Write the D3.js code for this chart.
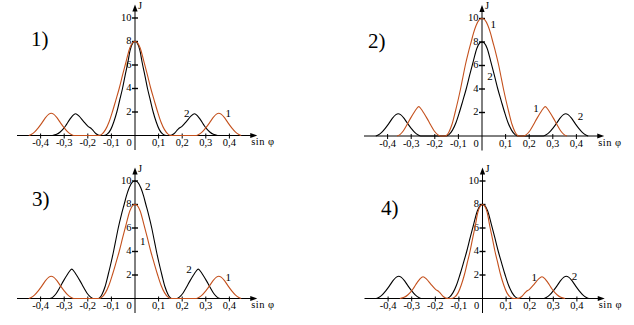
<!DOCTYPE html>
<html><head><meta charset="utf-8">
<script src="https://cdn.jsdelivr.net/npm/d3@7"></script>
<style>
body{margin:0;background:#fff;}
svg{display:block;background:#fff;}
text{font-family:"Liberation Serif","DejaVu Serif",serif;fill:#000;}
</style>
</head><body>
<svg id="chart" width="634" height="325" font-family="Liberation Serif, DejaVu Serif, serif"></svg>
<script>
// ---- data ----
const xTicks = [-0.4, -0.3, -0.2, -0.1, 0.1, 0.2, 0.3, 0.4];
const xTickLabels = ["-0,4", "-0,3", "-0,2", "-0,1", "0,1", "0,2", "0,3", "0,4"];
const yTicks = [2, 4, 6, 8, 10];
const yTickLabels = ["2", "4", "6", "8", "10"];
const panelLabels = ["1)", "2)", "3)", "4)"];
const xAxisTitle = "sin φ";
const yAxisTitle = "J";

// wide main maximum 8, side maxima at ±0.355
const curveA = [
  [-0.45,0],[-0.44,0.08],[-0.425,0.3],[-0.41,0.65],[-0.395,1.05],[-0.38,1.5],[-0.365,1.82],[-0.355,1.9],
  [-0.345,1.82],[-0.33,1.5],[-0.315,1.05],[-0.3,0.65],[-0.285,0.3],[-0.27,0.08],[-0.26,0],
  [-0.155,0],[-0.14,0.12],[-0.125,0.5],[-0.11,1.15],[-0.096,2.0],[-0.082,2.95],[-0.067,4.0],[-0.052,5.2],
  [-0.037,6.35],[-0.022,7.45],[-0.01,7.9],[0,8],[0.01,7.9],[0.022,7.45],[0.037,6.35],[0.052,5.2],[0.067,4.0],
  [0.082,2.95],[0.096,2.0],[0.11,1.15],[0.125,0.5],[0.14,0.12],[0.155,0],
  [0.26,0],[0.27,0.08],[0.285,0.3],[0.3,0.65],[0.315,1.05],[0.33,1.5],[0.345,1.82],[0.355,1.9],
  [0.365,1.82],[0.38,1.5],[0.395,1.05],[0.41,0.65],[0.425,0.3],[0.44,0.08],[0.45,0]
];
// narrow main maximum 8, side maxima at ±0.252
const curveB = [
  [-0.35,0],[-0.332,0.1],[-0.317,0.3],[-0.302,0.6],[-0.29,0.95],[-0.277,1.35],[-0.264,1.7],[-0.252,1.85],
  [-0.237,1.65],[-0.22,1.25],[-0.2,0.8],[-0.183,0.55],[-0.165,0.15],[-0.148,0],
  [-0.134,0],[-0.118,0.12],[-0.103,0.5],[-0.09,1.15],[-0.077,2.0],[-0.065,3.0],[-0.053,4.0],[-0.042,5.1],
  [-0.031,6.15],[-0.02,7.3],[-0.009,7.88],[0,8],[0.009,7.88],[0.02,7.3],[0.031,6.15],[0.042,5.1],[0.053,4.0],
  [0.065,3.0],[0.077,2.0],[0.09,1.15],[0.103,0.5],[0.118,0.12],[0.134,0],
  [0.148,0],[0.165,0.15],[0.183,0.55],[0.2,0.8],[0.22,1.25],[0.237,1.65],[0.252,1.85],[0.264,1.7],
  [0.277,1.35],[0.29,0.95],[0.302,0.6],[0.317,0.3],[0.332,0.1],[0.35,0]
];
// tall main maximum 10, side maxima at ±0.268
const curveC = [
  [-0.36,0],[-0.348,0.12],[-0.333,0.45],[-0.318,0.95],[-0.303,1.5],[-0.288,2.0],[-0.278,2.3],[-0.268,2.5],
  [-0.258,2.3],[-0.248,2.0],[-0.233,1.5],[-0.218,0.95],[-0.203,0.45],[-0.188,0.12],[-0.176,0],
  [-0.156,0],[-0.14,0.35],[-0.127,1.0],[-0.114,2.0],[-0.102,3.0],[-0.091,4.0],[-0.081,5.0],[-0.071,6.0],
  [-0.058,7.1],[-0.046,8.0],[-0.036,8.75],[-0.025,9.4],[-0.012,9.88],[0,10],[0.012,9.88],[0.025,9.4],
  [0.036,8.75],[0.046,8.0],[0.058,7.1],[0.071,6.0],[0.081,5.0],[0.091,4.0],[0.102,3.0],[0.114,2.0],
  [0.127,1.0],[0.14,0.35],[0.156,0],
  [0.176,0],[0.188,0.12],[0.203,0.45],[0.218,0.95],[0.233,1.5],[0.248,2.0],[0.258,2.3],[0.268,2.5],
  [0.278,2.3],[0.288,2.0],[0.303,1.5],[0.318,0.95],[0.333,0.45],[0.348,0.12],[0.36,0]
];

// curve "1" (brown) and curve "2" (black) in each panel
const panelCurve1 = [curveA, curveC, curveA, curveB];
const panelCurve2 = [curveB, curveA, curveC, curveA];

// curve number annotations: [sin φ, J, text]
const notes1 = [[0.219,1.89,"2"],[0.395,1.89,"1"]];
const notes2 = [[0.048,9.45,"1"],[0.034,5.1,"2"],[0.229,2.36,"1"],[0.417,1.7,"2"]];
const notes3 = [[0.054,9.5,"2"],[0.033,4.83,"1"],[0.229,2.49,"2"],[0.395,1.77,"1"]];
const notes4 = [[0.219,1.8,"1"],[0.39,1.86,"2"]];
const panelNotes = [notes1, notes2, notes3, notes4];

// ---- layout ----
const panels = [
  {x0:135,   y0:135.5, lx:31,  ly:46},
  {x0:482,   y0:136,   lx:368, ly:48},
  {x0:135,   y0:298.5, lx:32,  ly:206},
  {x0:482.5, y0:298.5, lx:381, ly:215}
];
const PX = 236;   // pixels per unit sin φ
const PY = 11.75; // pixels per unit J
const brown = "#c4501c";
const FONT = "Liberation Serif, DejaVu Serif, serif";

const svg = d3.select("#chart");

panels.forEach((p, i) => {
  const x = d3.scaleLinear().domain([0, 1]).range([p.x0, p.x0 + PX]);
  const y = d3.scaleLinear().domain([0, 1]).range([p.y0, p.y0 - PY]);
  const g = svg.append("g").attr("font-family", FONT);

  // axes
  const xMin = -0.5, xMax = 0.518, yTop = 11.15;
  g.append("line").attr("x1", x(xMin)).attr("x2", x(xMax) - 4)
    .attr("y1", y(0)).attr("y2", y(0)).attr("stroke", "#000").attr("stroke-width", 1);
  g.append("line").attr("x1", x(0)).attr("x2", x(0))
    .attr("y1", y(0) + 14.5).attr("y2", y(yTop) + 4).attr("stroke", "#000").attr("stroke-width", 1);
  // arrows
  const ax = x(xMax), ay = y(0);
  g.append("path").attr("d", `M${ax},${ay}L${ax-7},${ay-2.6}L${ax-7},${ay+2.6}Z`).attr("fill", "#000");
  const tx = x(0), ty = y(yTop);
  g.append("path").attr("d", `M${tx},${ty}L${tx-2.6},${ty+7}L${tx+2.6},${ty+7}Z`).attr("fill", "#000");

  // x ticks
  g.selectAll(".xt").data(xTicks).join("line")
    .attr("x1", d => x(d)).attr("x2", d => x(d))
    .attr("y1", y(0) - 2).attr("y2", y(0) + 3).attr("stroke", "#000");
  g.selectAll(".xl").data(xTicks).join("text")
    .attr("x", (d) => x(d)).attr("y", y(0) + 10.5)
    .attr("text-anchor", "middle").attr("font-size", 10.5)
    .text((d, k) => xTickLabels[k]);
  g.append("text").attr("x", x(0) - 6).attr("y", y(0) + 10.5)
    .attr("text-anchor", "middle").attr("font-size", 10.5).text("0");

  // y ticks
  g.selectAll(".yt").data(yTicks).join("line")
    .attr("x1", x(0) - 3).attr("x2", x(0) + 3)
    .attr("y1", d => y(d)).attr("y2", d => y(d)).attr("stroke", "#000").attr("stroke-width", 1.4);
  g.selectAll(".yl").data(yTicks).join("text")
    .attr("x", x(0) - 3.5).attr("y", d => y(d) + 2.5)
    .attr("text-anchor", "end").attr("font-size", 10.5)
    .text((d, k) => yTickLabels[k]);

  // axis titles
  g.append("text").attr("x", x(0) + 3).attr("y", y(yTop) + 4.5)
    .attr("font-size", 10.5).text(yAxisTitle);
  g.append("text").attr("x", x(xMax) - 6).attr("y", y(0) + 9.5)
    .attr("font-size", 10.5).attr("letter-spacing", 0.5).text(xAxisTitle);

  // curves
  const line = d3.line().x(d => x(d[0])).y(d => y(d[1])).curve(d3.curveMonotoneX);
  g.append("path").datum(panelCurve2[i]).attr("d", line)
    .attr("fill", "none").attr("stroke", "#000").attr("stroke-width", 1.1);
  g.append("path").datum(panelCurve1[i]).attr("d", line)
    .attr("fill", "none").attr("stroke", brown).attr("stroke-width", 1.1);

  // curve numbers
  g.selectAll(".nt").data(panelNotes[i]).join("text")
    .attr("x", d => x(d[0])).attr("y", d => y(d[1]) + 3.5)
    .attr("text-anchor", "middle").attr("font-size", 11)
    .text(d => d[2]);

  // panel label
  g.append("text").attr("x", p.lx).attr("y", p.ly)
    .attr("font-size", 21).text(panelLabels[i]);
});
</script>
</body></html>
